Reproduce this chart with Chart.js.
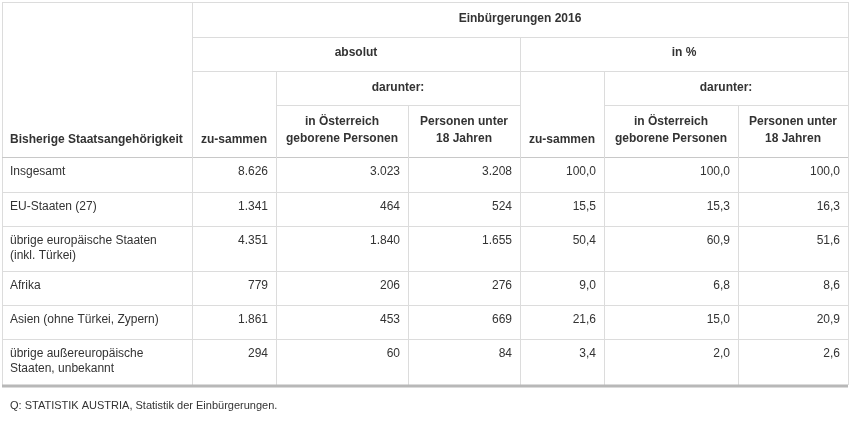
<!DOCTYPE html>
<html><head><meta charset="utf-8">
<script src="https://cdn.jsdelivr.net/npm/chart.js@4/dist/chart.umd.min.js"></script>
<style>body{margin:0;background:#fff}canvas{display:block}</style></head>
<body><canvas id="c" width="850" height="424"></canvas>
<script>
const title = "Einbürgerungen 2016";
const groupLabels = ["absolut", "in %"];
const subLabel = "darunter:";
const colHeaders = ["Bisherige Staatsangehörigkeit", "zu-sammen", "in Österreich\ngeborene Personen", "Personen unter\n18 Jahren", "zu-sammen", "in Österreich\ngeborene Personen", "Personen unter\n18 Jahren"];
const categories = ["Insgesamt", "EU-Staaten (27)", "übrige europäische Staaten\n(inkl. Türkei)", "Afrika", "Asien (ohne Türkei, Zypern)", "übrige außereuropäische\nStaaten, unbekannt"];
const absTotal = ["8.626", "1.341", "4.351", "779", "1.861", "294"];
const absAustria = ["3.023", "464", "1.840", "206", "453", "60"];
const absUnder18 = ["3.208", "524", "1.655", "276", "669", "84"];
const pctTotal = ["100,0", "15,5", "50,4", "9,0", "21,6", "3,4"];
const pctAustria = ["100,0", "15,3", "60,9", "6,8", "15,0", "2,0"];
const pctUnder18 = ["100,0", "16,3", "51,6", "8,6", "20,9", "2,6"];
const source = "Q: STATISTIK AUSTRIA, Statistik der Einbürgerungen.";

// layout (scale units)
const colX = [2, 192, 276, 408, 520, 604, 738, 848];
const rowY = [157, 192, 226, 271, 305, 339, 385];

const tablePlugin = {
  id: 'table',
  afterDraw(chart) {
    const ctx = chart.ctx, X = v => chart.scales.x.getPixelForValue(v), Y = v => chart.scales.y.getPixelForValue(v);
    const cols = [categories, absTotal, absAustria, absUnder18, pctTotal, pctAustria, pctUnder18];
    ctx.save();
    ctx.strokeStyle = '#dcdcdc'; ctx.lineWidth = 1;
    const h = (x1, x2, y) => { ctx.beginPath(); ctx.moveTo(X(x1), Math.round(Y(y)) + .5); ctx.lineTo(X(x2), Math.round(Y(y)) + .5); ctx.stroke(); };
    const v = (x, y1, y2) => { ctx.beginPath(); ctx.moveTo(Math.round(X(x)) + .5, Y(y1)); ctx.lineTo(Math.round(X(x)) + .5, Y(y2)); ctx.stroke(); };
    // outer
    h(2, 848, 2); v(2, 2, 385); v(848, 2, 385);
    h(192, 848, 37); h(192, 848, 71); h(276, 520, 105); h(604, 848, 105);
    ctx.strokeStyle = '#c8c8c8'; h(2, 848, 157); ctx.strokeStyle = '#dcdcdc';
    for (let i = 1; i < rowY.length - 1; i++) h(2, 848, rowY[i]);
    v(192, 2, 385); v(520, 37, 385); v(276, 71, 385); v(604, 71, 385); v(408, 105, 385); v(738, 105, 385);
    ctx.strokeStyle = '#b8b8b8'; ctx.lineWidth = 3;
    ctx.beginPath(); ctx.moveTo(X(2), Y(386)); ctx.lineTo(X(848), Y(386)); ctx.stroke();
    // headers
    ctx.fillStyle = '#333'; ctx.font = 'bold 12px "Liberation Sans", Arial, sans-serif'; ctx.textBaseline = 'middle';
    ctx.textAlign = 'center';
    ctx.fillText(title, X(520), Y(19));
    ctx.fillText(groupLabels[0], X(356), Y(53)); ctx.fillText(groupLabels[1], X(684), Y(53));
    ctx.fillText(subLabel, X(398), Y(88)); ctx.fillText(subLabel, X(726), Y(88));
    ctx.textAlign = 'left'; ctx.fillText(colHeaders[0], X(10), Y(140));
    for (let c = 1; c < 7; c++) {
      const lines = colHeaders[c].split('\n'), cx = (colX[c] + colX[c + 1]) / 2;
      ctx.textAlign = 'center';
      if (lines.length === 1) ctx.fillText(lines[0], X(cx), Y(140));
      else { ctx.fillText(lines[0], X(cx), Y(122)); ctx.fillText(lines[1], X(cx), Y(139)); }
    }
    // body
    ctx.font = '12px "Liberation Sans", Arial, sans-serif';
    for (let r = 0; r < categories.length; r++) {
      const y0 = Y(rowY[r] + 15);
      categories[r].split('\n').forEach((t, i) => { ctx.textAlign = 'left'; ctx.fillText(t, X(10), y0 + i * 15); });
      for (let c = 1; c < 7; c++) { ctx.textAlign = 'right'; ctx.fillText(cols[c][r], X(colX[c + 1] - 8), y0); }
    }
    ctx.font = '11px "Liberation Sans", Arial, sans-serif'; ctx.textAlign = 'left';
    ctx.fillText(source, X(10), Y(406));
    ctx.restore();
  }
};

new Chart(document.getElementById('c'), {
  type: 'scatter',
  data: { datasets: [{ data: [], showLine: false }] },
  options: {
    responsive: false, animation: false, devicePixelRatio: 1,
    layout: { padding: 0 },
    plugins: { legend: { display: false }, tooltip: { enabled: false } },
    scales: {
      x: { type: 'linear', min: 0, max: 850, display: false },
      y: { type: 'linear', min: 0, max: 424, reverse: true, display: false }
    }
  },
  plugins: [tablePlugin]
});
</script></body></html>
